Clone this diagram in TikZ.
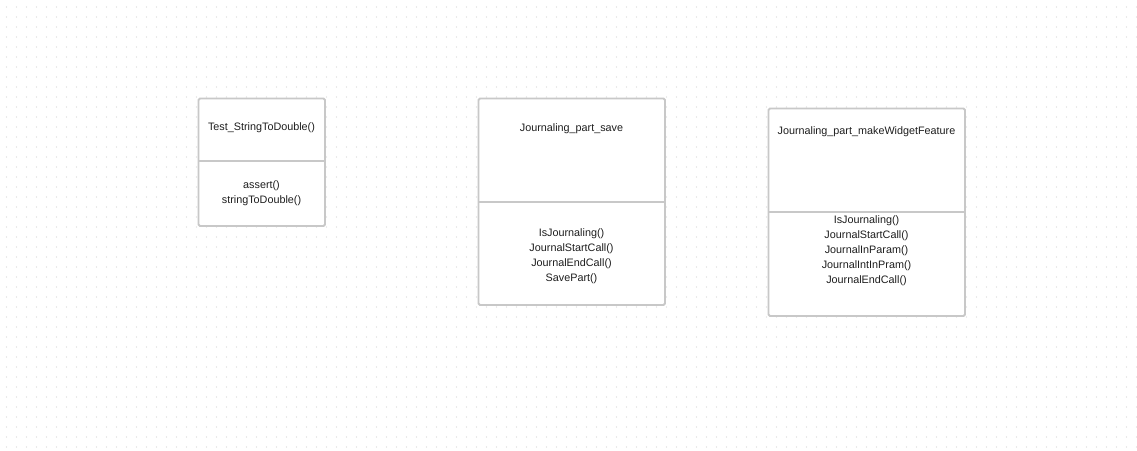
\documentclass[tikz,border=0pt]{standalone}
\usepackage{fontspec}
\setmainfont{Liberation Sans}
\definecolor{boxline}{HTML}{C8C8C8}
\definecolor{dotc}{HTML}{D6D6D6}
\definecolor{txt}{HTML}{1E1E1E}
\begin{document}
\begin{tikzpicture}[x=1pt,y=-1pt,
  umlbox/.style={draw=boxline,line width=1.8pt,rounded corners=1.5pt,fill=white},
  divider/.style={draw=boxline,line width=1.8pt},
  lbl/.style={inner sep=0pt,text=txt,font=\fontsize{10.8}{15}\selectfont,align=center}]
\useasboundingbox (0,0) rectangle (1137,450);
\fill[white] (0,0) rectangle (1137,450);
\foreach \i in {0,...,113}{
  \foreach \j in {0,...,44}{
    \fill[dotc] (6.5+10*\i,7+10*\j) circle (0.6);
  }
}
% Box 1
\draw[umlbox] (198.5,98.5) rectangle (325,226);
\coordinate (b1l) at (198.5,161);
\coordinate (b1r) at (325,161);
\draw[divider] (b1l) -- (b1r);
\node[lbl] (t1) at (261.5,128) {Test\_StringToDouble()};
\node[lbl] (m1) at (261.5,193.5) {assert()\\stringToDouble()};
% Box 2
\draw[umlbox] (478.5,98.5) rectangle (665,305);
\coordinate (b2l) at (478.5,202);
\coordinate (b2r) at (665,202);
\draw[divider] (b2l) -- (b2r);
\node[lbl] (t2) at (571.5,129) {Journaling\_part\_save};
\node[lbl] (m2) at (571.5,256) {IsJournaling()\\JournalStartCall()\\JournalEndCall()\\SavePart()};
% Box 3
\draw[umlbox] (768.5,108.5) rectangle (965,316);
\coordinate (b3l) at (768.5,212);
\coordinate (b3r) at (965,212);
\draw[divider] (b3l) -- (b3r);
\node[lbl] (t3) at (866.5,132) {Journaling\_part\_makeWidgetFeature};
\node[lbl] (m3) at (866.5,251) {IsJournaling()\\JournalStartCall()\\JournalInParam()\\JournalIntInPram()\\JournalEndCall()};
\end{tikzpicture}
\end{document}
